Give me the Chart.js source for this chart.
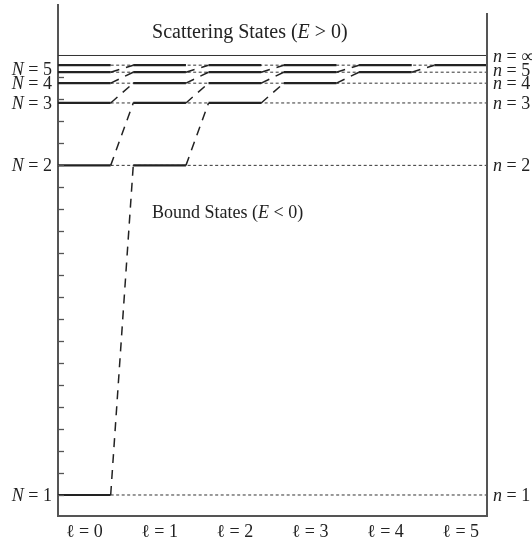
<!DOCTYPE html>
<html>
<head>
<meta charset="utf-8">
<script src="https://cdn.jsdelivr.net/npm/chart.js@4.4.0/dist/chart.umd.min.js"></script>
<style>
html,body{margin:0;padding:0;background:#fff;}
#wrap{width:532px;height:540px;position:relative;}
</style>
</head>
<body>
<div id="wrap"><canvas id="c"></canvas></div>
<script>
// ---- data ----
const nValues = [1, 2, 3, 4, 5, 6];                          // principal quantum numbers drawn
const levelEnergies = [-1, -0.25, -0.108, -0.063, -0.038, -0.022]; // relative energy of each n
const ellValues = [0, 1, 2, 3, 4, 5];                        // angular momentum columns
const leftLabelValues = ['1', '2', '3', '4', '5'];           // N = ...
const rightLabelValues = ['1', '2', '3', '4', '5'];          // n = ...
const continuumEnergy = 0;                                    // n = ∞
const tickValues = [-1, -0.95, -0.9, -0.85, -0.8, -0.75, -0.7, -0.65, -0.6, -0.55,
                    -0.5, -0.45, -0.4, -0.35, -0.3, -0.25, -0.2, -0.15, -0.1, -0.05];

// ---- layout constants ----
const SEG = 0.7;               // width of a level segment in ℓ units
const XMAX = ellValues[ellValues.length - 1] + SEG;
const YMIN = -1.0478, YMAX = 0.1149;
const FONT = '"Liberation Serif", "Times New Roman", serif';
const INK = '#222';
const AXIS = '#555';

// build datasets from the arrays
const levelPts = [], dotPts = [], connPts = [];
nValues.forEach((n, i) => {
  const E = levelEnergies[i];
  ellValues.forEach(l => {
    if (l < n) {
      levelPts.push({x: l, y: E}, {x: l + SEG, y: E}, {x: l + SEG + 0.01, y: null});
    }
  });
  dotPts.push({x: SEG, y: E}, {x: XMAX, y: E}, {x: XMAX, y: null});
  if (i + 1 < nValues.length) {
    const E2 = levelEnergies[i + 1];
    ellValues.forEach(l => {
      if (l < n && l + 1 <= ellValues[ellValues.length - 1]) {
        connPts.push({x: l + SEG, y: E}, {x: l + 1, y: E2}, {x: l + 1, y: null});
      }
    });
  }
});
const contPts = [{x: 0, y: continuumEnergy}, {x: XMAX, y: continuumEnergy}];

function drawMixed(ctx, parts, x, y, align, size) {
  size = size || 18;
  let total = 0;
  parts.forEach(p => { ctx.font = (p.i ? 'italic ' : '') + size + 'px ' + FONT; p.w = ctx.measureText(p.t).width; total += p.w; });
  let cx = align === 'right' ? x - total : align === 'center' ? x - total / 2 : x;
  ctx.textAlign = 'left';
  parts.forEach(p => { ctx.font = (p.i ? 'italic ' : '') + size + 'px ' + FONT; ctx.fillText(p.t, cx, y); cx += p.w; });
}

const overlay = {
  id: 'overlay',
  afterDraw(chart) {
    const {ctx, chartArea} = chart;
    const xs = chart.scales.x, ys = chart.scales.y;
    ctx.save();
    // right frame line (starts a little below the top of the left axis)
    ctx.strokeStyle = AXIS; ctx.lineWidth = 2;
    ctx.beginPath(); ctx.moveTo(chartArea.right, chartArea.top + 8); ctx.lineTo(chartArea.right, chartArea.bottom + 1); ctx.stroke();
    // inward tick marks on the left axis
    ctx.lineWidth = 1.3;
    ys.ticks.forEach(t => {
      const py = Math.round(ys.getPixelForValue(t.value)) + 0.5;
      ctx.beginPath(); ctx.moveTo(chartArea.left, py); ctx.lineTo(chartArea.left + 6, py); ctx.stroke();
    });
    ctx.fillStyle = INK;
    ctx.textBaseline = 'alphabetic';
    const capHalf = 6;
    // left labels  N = k  (pushed apart where the levels crowd together)
    let prevY = null;
    leftLabelValues.forEach((lab, i) => {
      let py = ys.getPixelForValue(levelEnergies[i]);
      if (prevY !== null && prevY - py < 14) py = prevY - 14;
      prevY = py;
      drawMixed(ctx, [{t: 'N', i: true}, {t: ' = ' + lab, i: false}], chartArea.left - 6, py + capHalf, 'right');
    });
    // right labels n = k
    rightLabelValues.forEach((lab, i) => {
      const py = ys.getPixelForValue(levelEnergies[i]);
      drawMixed(ctx, [{t: 'n', i: true}, {t: ' = ' + lab, i: false}], chartArea.right + 6, py + capHalf - (i === 4 ? 2 : 0), 'left');
    });
    drawMixed(ctx, [{t: 'n', i: true}, {t: ' = ∞', i: false}], chartArea.right + 6, ys.getPixelForValue(continuumEnergy) + capHalf + 1, 'left');
    // region captions
    drawMixed(ctx, [{t: 'Scattering States (', i: false}, {t: 'E', i: true}, {t: ' > 0)', i: false}],
      xs.getPixelForValue(2.55), ys.getPixelForValue(0.0557) + 7, 'center', 20);
    drawMixed(ctx, [{t: 'Bound States (', i: false}, {t: 'E', i: true}, {t: ' < 0)', i: false}],
      xs.getPixelForValue(1.25), ys.getPixelForValue(-0.356) + capHalf, 'left');
    ctx.restore();
  }
};

new Chart(document.getElementById('c'), {
  type: 'scatter',
  data: {
    datasets: [
      {label: 'levels', data: levelPts, showLine: true, borderColor: INK, borderWidth: 2.2, pointRadius: 0, spanGaps: false},
      {label: 'connectors', data: connPts, showLine: true, borderColor: INK, borderWidth: 1.5, borderDash: [9, 7], pointRadius: 0, spanGaps: false},
      {label: 'continuum', data: contPts, showLine: true, borderColor: '#333', borderWidth: 1, pointRadius: 0},
      {label: 'dotted', data: dotPts, showLine: true, borderColor: '#333', borderWidth: 1, borderDash: [3, 2.5], pointRadius: 0, spanGaps: false}
    ]
  },
  options: {
    responsive: true,
    maintainAspectRatio: false,
    animation: false,
    devicePixelRatio: 1,
    layout: {padding: {left: 58, right: 45, top: 5, bottom: 0}},
    plugins: {legend: {display: false}, tooltip: {enabled: false}},
    scales: {
      x: {
        type: 'linear', min: 0, max: XMAX,
        grid: {display: false, drawTicks: false},
        border: {display: true, color: AXIS, width: 2},
        afterBuildTicks: s => { s.ticks = ellValues.map(l => ({value: l + SEG / 2})); },
        afterFit: s => { s.height = 24; },
        ticks: {
          autoSkip: false, maxRotation: 0, padding: 7, color: INK,
          font: {family: FONT, size: 18, lineHeight: 1},
          callback: (v, i) => 'ℓ = ' + ellValues[i]
        }
      },
      y: {
        type: 'linear', min: YMIN, max: YMAX, position: 'left',
        grid: {display: false, drawTicks: false},
        border: {display: true, color: AXIS, width: 2},
        afterBuildTicks: s => { s.ticks = tickValues.map(v => ({value: v})); },
        ticks: {display: false}
      },
      y2: {
        type: 'linear', min: YMIN, max: YMAX, position: 'right', display: true,
        grid: {display: false, drawTicks: false},
        border: {display: false},
        ticks: {display: false}
      }
    }
  },
  plugins: [overlay]
});
</script>
</body>
</html>
